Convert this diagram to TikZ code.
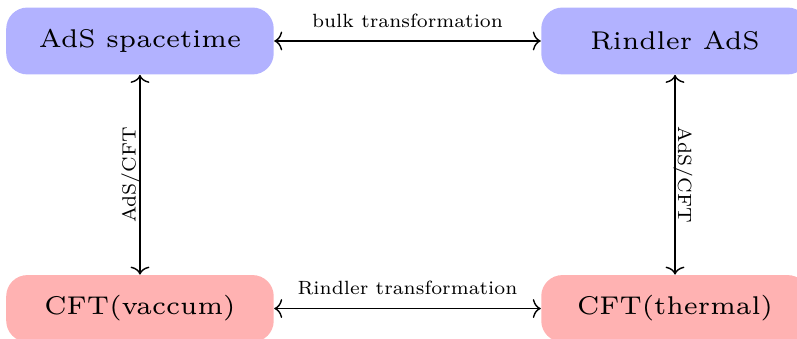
\documentclass[tikz,border=0pt]{standalone}
\usepackage{graphicx}
\usetikzlibrary{arrows.meta}
\newcommand{\boxtext}[1]{\scalebox{1.82}{\fontsize{6}{7}\selectfont #1}}
\newcommand{\lbltext}[1]{\scalebox{1.165}{\fontsize{7}{8}\selectfont #1}}
\begin{document}
\begin{tikzpicture}[
  box/.style={rounded corners=9pt, minimum width=4cm, minimum height=1cm},
  bluebox/.style={box, fill=blue!30},
  redbox/.style={box, fill=red!30},
  conn/.style={semithick, {To[length=3.4pt,width=8pt]}-{To[length=3.4pt,width=8pt]}},
  lbl/.style={inner sep=1pt}
]
\useasboundingbox (-2.093,-4.441) rectangle (9.824,0.613);
\node[bluebox] (ads) at (0,0) {\boxtext{AdS spacetime}};
\node[bluebox] (rads) at (8,0) {\boxtext{Rindler AdS}};
\node[redbox] (vac) at (0,-4) {\boxtext{CFT(vaccum)}};
\node[redbox] (th) at (8,-4) {\boxtext{CFT(thermal)}};
\draw[conn] (ads) -- node[above=4.5pt, inner sep=1pt] {\lbltext{bulk transformation}} (rads);
\draw[conn] (vac) -- node[above=4.5pt, inner sep=1pt] {\lbltext{Rindler transformation}} (th);
\draw[conn] (vac) -- node[lbl, midway, sloped, above=-1.5pt] {\lbltext{AdS/CFT}} (ads);
\draw[conn] (rads) -- node[lbl, midway, sloped, above=-2pt] {\lbltext{AdS/CFT}} (th);
\end{tikzpicture}
\end{document}
